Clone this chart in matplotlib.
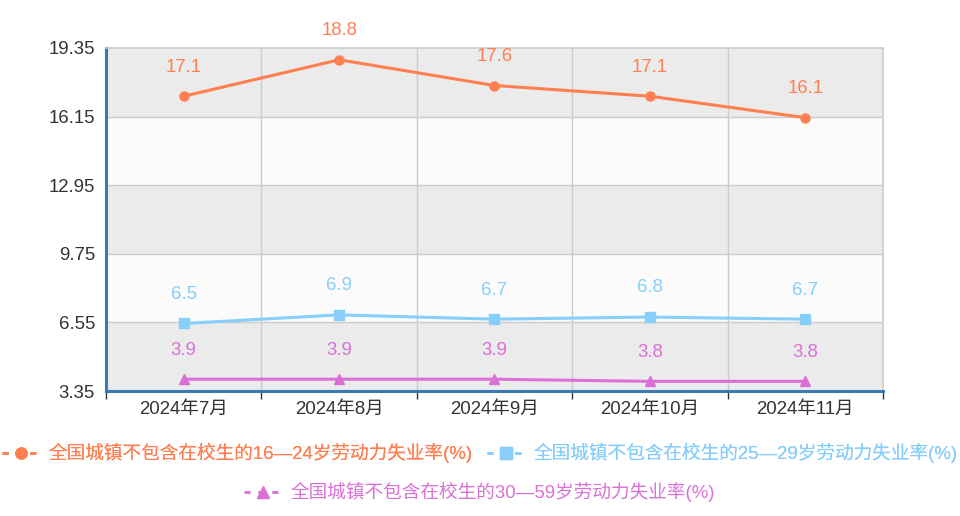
import numpy as np
import matplotlib.pyplot as plt
from matplotlib.lines import Line2D

plt.rcParams['font.family'] = ['Liberation Sans', 'Noto Sans CJK SC', 'DejaVu Sans']
plt.rcParams['axes.unicode_minus'] = False

months = ['2024年7月', '2024年8月', '2024年9月', '2024年10月', '2024年11月']
rate_16_24 = [17.1, 18.8, 17.6, 17.1, 16.1]
rate_25_29 = [6.5, 6.9, 6.7, 6.8, 6.7]
rate_30_59 = [3.9, 3.9, 3.9, 3.8, 3.8]
names = ['全国城镇不包含在校生的16—24岁劳动力失业率(%)',
         '全国城镇不包含在校生的25—29岁劳动力失业率(%)',
         '全国城镇不包含在校生的30—59岁劳动力失业率(%)']
yticks = [3.35, 6.55, 9.75, 12.95, 16.15, 19.35]

colors = ['#ff7f50', '#87cefa', '#da70d6']
markers = ['o', 's', '^']
series = [rate_16_24, rate_25_29, rate_30_59]
fs = 13.4

fig = plt.figure(figsize=(9.6, 5.16), dpi=100)
ax = fig.add_axes([106/960, 1-391/516, (883-106)/960, (391-48)/516])

x = np.arange(len(months))
ax.set_xlim(-0.5, len(months)-0.5)
ax.set_ylim(yticks[0], yticks[-1])

# 交替背景带
for i in range(len(yticks)-1):
    c = '#ebebeb' if i % 2 == 0 else '#fbfbfb'
    ax.axhspan(yticks[i], yticks[i+1], color=c, zorder=0, lw=0)
for yv in yticks[1:-1]:
    ax.axhline(yv, color='#cccccc', lw=1, zorder=1)
for xv in x[:-1] + 0.5:
    ax.axvline(xv, color='#cccccc', lw=1, zorder=1)

for vals, c, m in zip(series, colors, markers):
    ax.plot(x, vals, color=c, lw=2.2, marker=m, markersize=6.5, zorder=3, clip_on=False)
    for xi, v in zip(x, vals):
        ax.annotate(str(v), (xi, v), xytext=(0, 21), textcoords='offset points',
                    ha='center', va='center', color=c, fontsize=fs)

ax.set_yticks(yticks)
ax.set_yticklabels([f'{v:.2f}' for v in yticks], fontsize=fs, color='#333333')
ax.set_xticks(x)
ax.set_xticklabels(months, fontsize=fs, color='#333333')
ax.tick_params(axis='x', length=0, pad=7)
ax.tick_params(axis='y', length=0, pad=8)
ax.set_xticks(np.arange(-0.5, len(months)), minor=True)
ax.tick_params(axis='x', which='minor', length=6, width=1, color='#333333')

for s in ['left', 'bottom']:
    ax.spines[s].set_color('#3a7ab4')
    ax.spines[s].set_linewidth(2.2)
for s in ['top', 'right']:
    ax.spines[s].set_color('#cccccc')
    ax.spines[s].set_linewidth(1.2)

handles = [Line2D([0], [0], color=c, marker=m, markersize=8, lw=2, dashes=(2.2, 2.8))
           for c, m in zip(colors, markers)]

leg1 = fig.legend(handles[:2], names[:2], loc='center', bbox_to_anchor=(0.5, 1-453/516),
                  ncol=2, frameon=False, fontsize=fs, handlelength=2.0, handletextpad=0.5,
                  columnspacing=0.8)
for t, c in zip(leg1.get_texts(), colors[:2]):
    t.set_color(c)
leg2 = fig.legend(handles[2:], names[2:], loc='center', bbox_to_anchor=(0.5, 1-492/516),
                  ncol=1, frameon=False, fontsize=fs, handlelength=2.0, handletextpad=0.5)
for t in leg2.get_texts():
    t.set_color(colors[2])
fig.add_artist(leg1)

fig.savefig('out.png', dpi=100)
